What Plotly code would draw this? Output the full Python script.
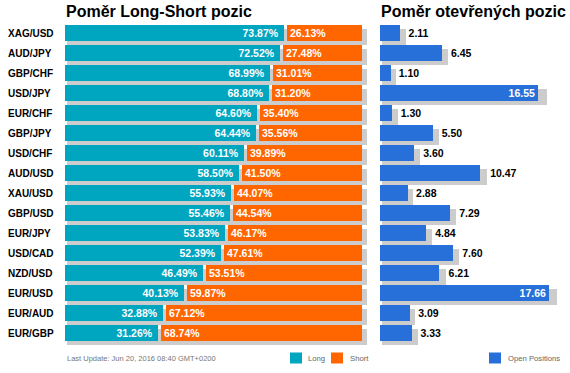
import plotly.graph_objects as go

# ---------------- data ----------------
pairs = ["XAG/USD", "AUD/JPY", "GBP/CHF", "USD/JPY", "EUR/CHF", "GBP/JPY", "USD/CHF", "AUD/USD",
         "XAU/USD", "GBP/USD", "EUR/JPY", "USD/CAD", "NZD/USD", "EUR/USD", "EUR/AUD", "EUR/GBP"]
long_pct = [73.87, 72.52, 68.99, 68.80, 64.60, 64.44, 60.11, 58.50,
            55.93, 55.46, 53.83, 52.39, 46.49, 40.13, 32.88, 31.26]
short_pct = [26.13, 27.48, 31.01, 31.20, 35.40, 35.56, 39.89, 41.50,
             44.07, 44.54, 46.17, 47.61, 53.51, 59.87, 67.12, 68.74]
open_pos = [2.11, 6.45, 1.10, 16.55, 1.30, 5.50, 3.60, 10.47,
            2.88, 7.29, 4.84, 7.60, 6.21, 17.66, 3.09, 3.33]

title_left = "Poměr Long-Short pozic"
title_right = "Poměr otevřených pozic"
footnote = "Last Update: Jun 20, 2016 08:40 GMT+0200"
legend_labels = ["Long", "Short", "Open Positions"]

# ---------------- style ----------------
W, H = 570, 373
FONT = "Liberation Sans, Arial, sans-serif"
TEAL = "#00A5BF"
ORANGE = "#FF6600"
BLUE = "#2870D9"
SHADOW = "#CCCCCC"

L0, L1 = 65, 375          # left plot area (px)
R0, R1 = 380, 570         # right plot area (px)
L_PPU = 297 / 100         # px per % unit
R_PPU = 9.57              # px per open-position unit
ROW = 20                  # px per row
left_range = (L1 - L0) / L_PPU
right_range = (R1 - R0) / R_PPU

idx = list(range(len(pairs)))
shadow_y = [i + 4 / ROW for i in idx]
gap = 3 / L_PPU

fig = go.Figure()

# left shadows
total = [l + s for l, s in zip(long_pct, short_pct)]
fig.add_trace(go.Bar(
    y=shadow_y, x=[t + 3 / L_PPU for t in total], base=[2 / L_PPU] * len(idx),
    orientation="h", width=0.8, marker=dict(color=SHADOW, line=dict(width=0)),
    xaxis="x", yaxis="y", showlegend=False, hoverinfo="skip"))

# long
fig.add_trace(go.Bar(
    y=idx, x=long_pct, orientation="h", width=0.8,
    marker=dict(color=TEAL, line=dict(width=0)),
    text=[f"{v:.2f}%\u00a0" for v in long_pct], textposition="inside",
    insidetextanchor="end", textangle=0, constraintext="none",
    textfont=dict(family=FONT, size=10.5, color="white", weight="bold"),
    xaxis="x", yaxis="y", name=legend_labels[0], showlegend=False))

# short
fig.add_trace(go.Bar(
    y=idx, x=[s - gap for s in short_pct], base=[l + gap for l in long_pct],
    orientation="h", width=0.8,
    marker=dict(color=ORANGE, line=dict(width=0)),
    text=[f"{v:.2f}%" for v in short_pct], textposition="inside",
    insidetextanchor="start", textangle=0, constraintext="none",
    textfont=dict(family=FONT, size=10.5, color="white", weight="bold"),
    xaxis="x", yaxis="y", name=legend_labels[1], showlegend=False))

# right chart
inside = [v > 0.8 * right_range for v in open_pos]
shadow_len = [v * 1.02 + 3 / R_PPU for v in open_pos]
shadow_base = 2 / R_PPU
fig.add_trace(go.Bar(
    y=shadow_y, x=shadow_len, base=[shadow_base] * len(idx),
    orientation="h", width=0.8, marker=dict(color=SHADOW, line=dict(width=0)),
    xaxis="x2", yaxis="y2", showlegend=False, hoverinfo="skip"))

fig.add_trace(go.Bar(
    y=idx, x=open_pos, orientation="h", width=0.8,
    marker=dict(color=BLUE, line=dict(width=0)),
    text=[f"{v:.2f}" if ins else "" for v, ins in zip(open_pos, inside)],
    textposition="inside", insidetextanchor="end", textangle=0, constraintext="none",
    textfont=dict(family=FONT, size=10.5, color="white", weight="bold"),
    xaxis="x2", yaxis="y2", name=legend_labels[2], showlegend=False))

# outside value labels
out_x = [shadow_base + s + 3 / R_PPU for s, ins in zip(shadow_len, inside) if not ins]
out_y = [i + 1 / ROW for i, ins in zip(idx, inside) if not ins]
out_t = [f"{v:.2f}" for v, ins in zip(open_pos, inside) if not ins]
fig.add_trace(go.Scatter(
    x=out_x, y=out_y, text=out_t, mode="text", textposition="middle right",
    textfont=dict(family=FONT, size=10.5, color="black", weight="bold"),
    cliponaxis=False, xaxis="x2", yaxis="y2", showlegend=False, hoverinfo="skip"))

yrange = [(H - 33) / ROW, -33 / ROW]
axis_common = dict(showgrid=False, zeroline=False, showline=False, showticklabels=False,
                   ticks="", fixedrange=True)

fig.update_layout(
    width=W, height=H,
    margin=dict(l=0, r=0, t=0, b=0, pad=0),
    paper_bgcolor="white", plot_bgcolor="rgba(0,0,0,0)",
    barmode="overlay", bargap=0,
    font=dict(family=FONT),
    xaxis=dict(domain=[L0 / W, L1 / W], range=[0, left_range], **axis_common),
    yaxis=dict(domain=[0, 1], range=yrange, **axis_common),
    xaxis2=dict(domain=[R0 / W, R1 / W], range=[0, right_range], anchor="y2", **axis_common),
    yaxis2=dict(domain=[0, 1], range=yrange, anchor="x2", **axis_common),
    showlegend=False,
    hovermode=False,
)

ann = []
# category labels
for i, p in zip(idx, pairs):
    ann.append(dict(x=6 / W, xref="paper", y=i, yref="y", text=p, showarrow=False,
                    xanchor="left", yanchor="middle",
                    font=dict(family=FONT, size=10, color="black", weight="bold")))
# titles
for x0, t in [(L0, title_left), (R0, title_right)]:
    ann.append(dict(x=(x0 - 1) / W, xref="paper", y=1 - 11 / H, yref="paper", text=t,
                    showarrow=False, xanchor="left", yanchor="middle",
                    font=dict(family=FONT, size=16, color="black", weight="bold")))
# footnote
ann.append(dict(x=65 / W, xref="paper", y=1 - 358 / H, yref="paper", text=footnote,
                showarrow=False, xanchor="left", yanchor="middle",
                font=dict(family=FONT, size=7.5, color="#777777")))

# legend keys
shapes = []
for (sx, tx), col, lab in zip([(290, 306), (331, 348), (489, 506)], [TEAL, ORANGE, BLUE], legend_labels):
    shapes.append(dict(type="rect", xref="paper", yref="paper",
                       x0=sx / W, x1=(sx + 12) / W, y0=1 - 363.5 / H, y1=1 - 352.5 / H,
                       fillcolor=col, line=dict(width=0)))
    ann.append(dict(x=tx / W, xref="paper", y=1 - 358 / H, yref="paper", text=lab,
                    showarrow=False, xanchor="left", yanchor="middle",
                    font=dict(family=FONT, size=7.7, color="#666666")))

fig.update_layout(annotations=ann, shapes=shapes)
fig.write_html("out.html", config={"displayModeBar": False},
               post_script="document.body.style.margin='0';")
